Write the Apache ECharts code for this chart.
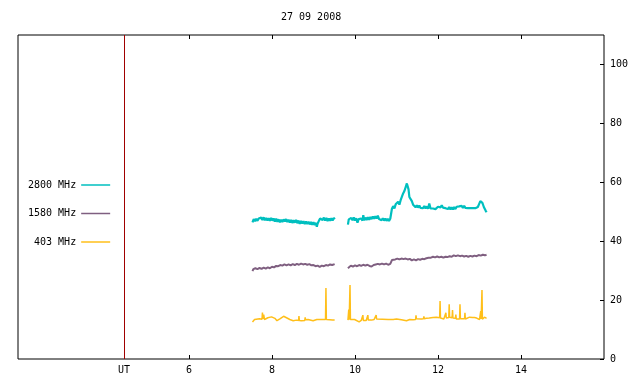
<!DOCTYPE html>
<html><head><meta charset="utf-8">
<script src="https://cdn.jsdelivr.net/npm/echarts@6/dist/echarts.min.js"></script>
<style>html,body{margin:0;padding:0;background:#fff}#c{width:640px;height:384px}</style>
</head><body><div id="c"></div>
<script>
const titleText = '27 09 2008';
const seriesNames = ['2800 MHz', '1580 MHz', '403 MHz'];
const xTicks = [6, 8, 10, 12, 14];
const yTicks = [0, 20, 40, 60, 80, 100];
const utHour = 4.434;
const gapHour = 9.67;

const f2800a = [[7.53,46.4],[7.56,47.5],[7.59,46.8],[7.62,47.6],[7.65,46.9],[7.68,47.7],[7.71,47.1],[7.74,48.0],[7.77,47.2],[7.80,48.1],[7.83,47.1],[7.86,47.9],[7.89,47.0],[7.92,47.8],[7.95,46.9],[7.98,47.9],[8.01,47.0],[8.04,47.7],[8.07,46.7],[8.10,47.6],[8.13,46.6],[8.16,47.4],[8.19,46.4],[8.22,47.3],[8.25,46.5],[8.28,47.4],[8.31,46.7],[8.34,47.5],[8.37,46.5],[8.40,47.3],[8.43,46.3],[8.46,47.2],[8.49,46.2],[8.52,47.1],[8.55,46.3],[8.58,47.2],[8.61,46.1],[8.64,47.0],[8.67,45.9],[8.70,46.9],[8.73,46.0],[8.76,46.8],[8.79,45.8],[8.82,46.7],[8.85,45.8],[8.88,46.6],[8.91,45.7],[8.94,46.5],[8.97,45.6],[9.00,46.4],[9.03,45.5],[9.06,46.2],[9.08,44.9],[9.10,46.0],[9.13,46.9],[9.16,47.7],[9.19,48.3],[9.22,47.2],[9.25,48.0],[9.28,47.0],[9.31,47.9],[9.34,46.8],[9.37,47.7],[9.40,46.9],[9.43,47.8],[9.46,47.0],[9.49,47.9],[9.51,47.4]];
const f2800b = [[9.83,45.6],[9.85,47.4],[9.88,46.8],[9.91,47.9],[9.94,47.1],[9.97,48.1],[10.00,47.0],[10.03,47.8],[10.06,46.3],[10.09,47.5],[10.12,46.9],[10.15,47.7],[10.18,47.0],[10.20,48.8],[10.22,47.1],[10.25,48.0],[10.28,47.2],[10.31,48.1],[10.34,47.3],[10.37,48.2],[10.40,47.5],[10.43,48.4],[10.46,47.6],[10.49,48.5],[10.52,47.7],[10.55,48.7],[10.58,47.5],[10.61,48.0],[10.64,47.1],[10.67,47.8],[10.70,47.0],[10.73,47.7],[10.76,46.9],[10.79,47.6],[10.82,46.9],[10.85,47.6],[10.88,47.0],[10.89,51.0],[10.92,51.9],[10.95,51.1],[10.98,52.5],[11.01,51.9],[11.04,53.4],[11.07,52.4],[11.10,53.9],[11.13,54.5],[11.16,56.2],[11.19,57.0],[11.22,58.3],[11.25,59.6],[11.27,59.0],[11.29,57.6],[11.31,55.0],[11.34,54.6],[11.37,53.6],[11.40,52.4],[11.43,52.3],[11.46,51.5],[11.49,52.2],[11.52,51.4],[11.55,52.1],[11.58,51.3],[11.61,51.9],[11.64,51.2],[11.67,51.9],[11.70,51.1],[11.73,51.8],[11.76,51.0],[11.79,52.8],[11.82,51.1],[11.85,50.7],[11.88,51.1],[11.91,50.5],[11.94,50.9],[11.97,51.2],[12.00,51.7],[12.03,51.9],[12.06,51.5],[12.09,52.2],[12.12,51.4],[12.15,52.0],[12.18,51.2],[12.21,51.8],[12.24,50.9],[12.27,51.6],[12.30,50.8],[12.33,51.5],[12.36,50.8],[12.39,51.6],[12.42,50.9],[12.45,51.7],[12.48,51.1],[12.51,51.8],[12.54,51.2],[12.57,52.0],[12.60,51.3],[12.63,52.0],[12.66,51.3],[12.69,51.8],[12.72,51.2],[12.75,51.7],[12.78,51.2],[12.81,51.7],[12.84,51.2],[12.87,51.7],[12.90,51.2],[12.93,51.7],[12.96,51.6],[12.99,52.6],[13.02,53.6],[13.05,53.8],[13.07,53.0],[13.09,52.2],[13.11,51.4],[13.13,50.8],[13.15,50.3],[13.17,49.8]];

const f1580a = [[7.53,29.8],[7.55,30.5],[7.60,30.8],[7.65,30.5],[7.70,30.9],[7.75,30.6],[7.80,31.0],[7.85,30.7],[7.90,31.1],[7.95,30.8],[8.00,31.3],[8.05,31.1],[8.10,31.6],[8.15,31.5],[8.20,31.9],[8.25,31.7],[8.30,32.1],[8.35,31.8],[8.40,32.1],[8.45,31.8],[8.50,32.2],[8.55,31.9],[8.60,32.3],[8.65,32.0],[8.70,32.4],[8.75,32.1],[8.80,32.3],[8.85,32.0],[8.90,32.2],[8.95,31.8],[9.00,31.9],[9.05,31.5],[9.10,31.7],[9.15,31.3],[9.20,31.7],[9.25,31.5],[9.30,31.9],[9.35,31.7],[9.40,32.1],[9.45,31.9],[9.51,32.2]];
const f1580b = [[9.83,30.8],[9.85,31.4],[9.90,31.7],[9.95,31.4],[10.00,31.8],[10.05,31.5],[10.10,31.9],[10.15,31.6],[10.20,32.0],[10.25,31.7],[10.30,32.0],[10.35,31.6],[10.40,31.4],[10.45,31.9],[10.50,32.1],[10.55,32.3],[10.60,32.1],[10.65,32.4],[10.70,32.1],[10.75,32.4],[10.80,32.0],[10.85,32.3],[10.88,32.1],[10.89,33.6],[10.92,34.0],[10.97,33.8],[11.02,34.1],[11.07,33.8],[11.12,34.1],[11.17,33.9],[11.22,34.1],[11.27,33.8],[11.32,34.0],[11.37,33.5],[11.42,33.8],[11.47,33.5],[11.52,33.9],[11.57,33.7],[11.62,34.0],[11.67,33.9],[11.72,34.2],[11.77,34.4],[11.80,35.0],[11.83,34.4],[11.88,34.7],[11.93,34.5],[11.98,34.8],[12.03,34.5],[12.08,34.7],[12.13,34.4],[12.18,34.7],[12.23,34.6],[12.28,34.9],[12.33,34.7],[12.38,35.2],[12.43,34.9],[12.48,35.2],[12.53,34.9],[12.58,35.1],[12.63,34.8],[12.68,35.0],[12.73,34.7],[12.78,35.0],[12.83,34.8],[12.88,35.1],[12.93,34.9],[12.98,35.3],[13.03,35.1],[13.08,35.4],[13.13,35.2],[13.17,35.4]];

const f403a = [[7.53,12.6],[7.58,13.4],[7.62,13.8],[7.70,13.7],[7.74,13.4],[7.76,13.5],[7.77,15.8],[7.78,13.6],[7.80,15.1],[7.82,13.4],[7.90,14.0],[7.99,14.3],[8.07,13.8],[8.12,13.0],[8.19,13.6],[8.28,14.5],[8.35,14.0],[8.43,13.4],[8.51,13.0],[8.59,13.2],[8.64,13.1],[8.65,14.6],[8.66,13.1],[8.71,13.0],[8.79,13.1],[8.80,14.1],[8.81,13.3],[8.87,13.4],[8.99,13.0],[9.08,13.4],[9.23,13.4],[9.29,13.4],[9.30,24.1],[9.31,13.4],[9.35,13.4],[9.39,13.3],[9.40,13.9],[9.41,13.2],[9.46,13.2],[9.51,13.2]];
const f403b = [[9.83,13.2],[9.84,13.2],[9.85,16.8],[9.86,13.3],[9.87,13.3],[9.88,25.1],[9.89,13.4],[9.99,13.4],[10.10,12.6],[10.15,13.1],[10.18,13.1],[10.19,14.9],[10.20,13.1],[10.27,13.1],[10.30,13.1],[10.31,14.9],[10.32,13.2],[10.40,13.2],[10.46,13.4],[10.50,13.4],[10.51,14.9],[10.52,13.6],[10.80,13.4],[10.84,13.8],[10.92,13.4],[11.00,13.6],[11.04,13.0],[11.12,13.3],[11.24,13.0],[11.32,13.4],[11.40,13.3],[11.46,13.4],[11.47,14.8],[11.48,13.7],[11.52,13.8],[11.60,13.6],[11.65,13.7],[11.66,14.5],[11.67,13.7],[11.72,13.8],[11.79,13.9],[11.80,14.5],[11.81,14.0],[11.88,14.1],[11.96,14.2],[12.04,14.0],[12.05,19.7],[12.06,13.9],[12.08,13.8],[12.14,13.6],[12.18,13.7],[12.19,15.7],[12.20,13.9],[12.22,14.1],[12.26,14.1],[12.27,18.6],[12.28,14.2],[12.31,14.4],[12.34,14.0],[12.35,16.6],[12.36,13.9],[12.40,13.8],[12.42,13.8],[12.43,15.1],[12.44,13.6],[12.46,13.4],[12.52,13.6],[12.53,18.6],[12.54,13.7],[12.56,13.8],[12.64,13.7],[12.65,15.7],[12.66,13.6],[12.68,13.6],[12.76,14.2],[12.83,14.1],[12.84,14.5],[12.85,14.1],[12.88,14.1],[12.91,14.0],[12.92,14.5],[12.93,13.9],[12.96,13.8],[13.00,13.4],[13.02,13.5],[13.03,16.3],[13.04,13.6],[13.05,13.6],[13.06,23.4],[13.07,13.5],[13.08,13.4],[13.12,14.2],[13.17,13.8]];

const colors = ['#00bfbf', '#7f5f80', '#ffbf1a'];
const FONT = 'DejaVu Sans Mono';

function withGap(a, b) { return a.concat([[gapHour, '-']], b); }

const chart = echarts.init(document.getElementById('c'), null, {renderer: 'canvas'});
chart.setOption({
  animation: false,
  backgroundColor: '#fff',
  title: {
    text: titleText, left: 281, top: 11, padding: 0,
    textStyle: {fontFamily: FONT, fontSize: 10, fontWeight: 'normal', color: '#000', lineHeight: 12}
  },
  legend: {
    orient: 'vertical', align: 'right', left: 28, top: 179,
    itemWidth: 29, itemHeight: 1.5, itemGap: 16.5, icon: 'rect',
    selectedMode: false, padding: 0,
    textStyle: {fontFamily: FONT, fontSize: 10, color: '#000', lineHeight: 12},
    data: seriesNames
  },
  grid: {left: 18, right: 36, top: 35, bottom: 25, show: true, borderColor: '#000', borderWidth: 1, backgroundColor: 'transparent'},
  xAxis: [{
    type: 'value', min: 1.88, max: 16, position: 'bottom',
    axisLine: {show: false}, splitLine: {show: false},
    axisTick: {show: true, inside: true, length: 4, lineStyle: {color: '#000'}, customValues: xTicks},
    axisLabel: {show: true, margin: 6, fontFamily: FONT, fontSize: 10, color: '#000',
      customValues: [utHour].concat(xTicks),
      formatter: function (v) { return Math.abs(v - utHour) < 0.01 ? 'UT' : String(Math.round(v)); }}
  }, {
    type: 'value', min: 1.88, max: 16, position: 'top',
    axisLine: {show: false}, splitLine: {show: false},
    axisTick: {show: true, inside: true, length: 4, lineStyle: {color: '#000'}, customValues: xTicks},
    axisLabel: {show: false}
  }],
  yAxis: [{
    type: 'value', min: 0, max: 110, interval: 20, position: 'right',
    axisLine: {show: false}, splitLine: {show: false},
    axisTick: {show: true, inside: true, length: 4, lineStyle: {color: '#000'}, customValues: yTicks},
    axisLabel: {show: true, margin: 6, fontFamily: FONT, fontSize: 10, color: '#000', customValues: yTicks}
  }],
  series: [
    {name: seriesNames[0], type: 'line', data: withGap(f2800a, f2800b), showSymbol: false, symbol: 'none',
      lineStyle: {color: colors[0], width: 2.2}, itemStyle: {color: colors[0]}, silent: true,
      markLine: {silent: true, symbol: 'none', label: {show: false},
        lineStyle: {color: '#a00000', width: 1, type: 'solid'}, data: [{xAxis: utHour}]}},
    {name: seriesNames[1], type: 'line', data: withGap(f1580a, f1580b), showSymbol: false, symbol: 'none',
      lineStyle: {color: colors[1], width: 2}, itemStyle: {color: colors[1]}, silent: true},
    {name: seriesNames[2], type: 'line', data: withGap(f403a, f403b), showSymbol: false, symbol: 'none',
      lineStyle: {color: colors[2], width: 1.5}, itemStyle: {color: colors[2]}, silent: true}
  ]
});
</script></body></html>
